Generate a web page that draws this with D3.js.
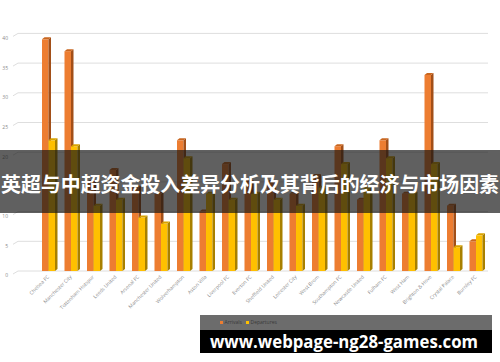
<!DOCTYPE html>
<html>
<head>
<meta charset="utf-8">
<script src="https://cdn.jsdelivr.net/npm/d3@7/dist/d3.min.js"></script>
<style>
  html, body { margin: 0; padding: 0; background: #fff; }
  svg { display: block; }
</style>
</head>
<body>
<div id="chart"></div>
<script>
// Transfers per club: arrivals vs departures
const teams = [
  "Chelsea FC", "Manchester City", "Tottenham Hotspur", "Leeds United", "Arsenal FC",
  "Manchester United", "Wolverhampton", "Aston Villa", "Liverpool FC", "Everton FC",
  "Sheffield United", "Leicester City", "West Brom", "Southampton FC", "Newcastle United",
  "Fulham FC", "West Ham", "Brighton & Hove", "Crystal Palace", "Burnley FC"
];
const arrivals   = [39, 37, 15, 17, 14, 13, 22, 10, 18, 15, 15, 13, 16, 21, 12, 22, 13, 33, 11, 5];
const departures = [22, 21, 11, 12,  9,  8, 19, 13, 12, 13, 12, 11, 14, 18, 14, 19, 13, 18,  4, 6];
const seriesNames = ["Arrivals", "Departures"];
const yTicks = [0, 5, 10, 15, 20, 25, 30, 35, 40];
const title = "英超与中超资金投入差异分析及其背后的经济与市场因素";
const siteText = "www.webpage-ng28-games.com";

const W = 500, H = 362;
const svg = d3.select("#chart").append("svg").attr("width", W).attr("height", H);

const x = d3.scaleBand().domain(teams).range([35, 485]);
const sub = d3.scaleBand().domain(seriesNames).range([7, 20]);
const y = d3.scaleLinear().domain([0, 40]).range([271, 33.4]);

const front = { Arrivals: "#ED7D31", Departures: "#FFC000" };
const side  = { Arrivals: "#A24F18", Departures: "#A88000" };
const topC  = { Arrivals: "#C9661F", Departures: "#D9A300" };
const dx = 2.5, dy = -2;

// back-wall gridlines with a short floor corner on the left
const grid = svg.append("g");
yTicks.forEach(t => {
  const gy = y(t);
  grid.append("path")
    .attr("d", `M13,${gy + 3}L18,${gy}H488`)
    .attr("fill", "none").attr("stroke", "#dedede").attr("stroke-width", 1);
});

// y tick labels
const yAxis = svg.append("g").attr("transform", "translate(8,4.3)")
  .call(d3.axisLeft(y).tickValues(yTicks).tickSize(0).tickPadding(0));
yAxis.select(".domain").remove();
yAxis.selectAll("text").attr("font-family", "Open Sans, sans-serif")
  .attr("font-size", 5).attr("fill", "#8a8a8a");

// 3D-styled columns
const rows = teams.map((t, i) => ({ team: t, vals: [
  { s: "Arrivals", v: arrivals[i] }, { s: "Departures", v: departures[i] }
]}));
const groups = svg.append("g").selectAll("g").data(rows).join("g")
  .attr("transform", d => `translate(${x(d.team)},0)`);

groups.each(function(d) {
  const g = d3.select(this);
  d.vals.forEach(b => {
    const bx = sub(b.s), w = sub.bandwidth();
    const ty = y(b.v), by = y(0);
    g.append("rect").attr("x", bx).attr("y", ty).attr("width", w).attr("height", by - ty)
      .attr("fill", front[b.s]);
    g.append("path")
      .attr("d", `M${bx + w},${ty}L${bx + w + dx},${ty + dy}V${by + dy}L${bx + w},${by}Z`)
      .attr("fill", side[b.s]);
    g.append("path")
      .attr("d", `M${bx},${ty}L${bx + dx},${ty + dy}H${bx + w + dx}L${bx + w},${ty}Z`)
      .attr("fill", topC[b.s]);
  });
});

// category labels
const xAxis = svg.append("g").attr("transform", "translate(2,276)")
  .call(d3.axisBottom(x).tickSize(0).tickPadding(0));
xAxis.select(".domain").remove();
xAxis.selectAll("text")
  .attr("font-family", "Open Sans, sans-serif").attr("font-size", 5).attr("fill", "#8a8a8a")
  .attr("text-anchor", "end").attr("dy", "0.35em")
  .attr("transform", "rotate(-45)");

// legend strip
svg.append("rect").attr("x", 200).attr("y", 315).attr("width", 292).attr("height", 15)
  .attr("fill", "#6c6c6c");
const legend = svg.append("g").attr("transform", "translate(220,322.5)");
seriesNames.forEach((s, i) => {
  const lg = legend.append("g").attr("transform", `translate(${i * 26},0)`);
  lg.append("rect").attr("x", 0).attr("y", -1.5).attr("width", 3).attr("height", 3).attr("fill", front[s]);
  lg.append("text").attr("x", 4.5).attr("y", 1.8).attr("font-family", "Open Sans, sans-serif")
    .attr("font-size", 5).attr("fill", "#3a3a3a").text(s);
});

// site banner
svg.append("rect").attr("x", 200).attr("y", 330).attr("width", 292).attr("height", 23).attr("fill", "#000");
svg.append("text").attr("x", 344).attr("y", 347.5).attr("text-anchor", "middle")
  .attr("font-family", "Open Sans, DejaVu Sans, sans-serif").attr("font-weight", 700)
  .attr("font-size", 18).attr("fill", "#fff")
  .attr("textLength", 268).attr("lengthAdjust", "spacingAndGlyphs")
  .text(siteText);

// title banner
svg.append("rect").attr("x", 0).attr("y", 150).attr("width", W).attr("height", 63)
  .attr("fill", "rgba(20,20,20,0.68)");
svg.append("text").attr("x", W / 2).attr("y", 192).attr("text-anchor", "middle")
  .attr("font-family", "Noto Sans CJK SC, sans-serif").attr("font-weight", 700)
  .attr("font-size", 20).attr("fill", "#fff")
  .attr("textLength", 498).attr("lengthAdjust", "spacingAndGlyphs")
  .text(title);
</script>
</body>
</html>
